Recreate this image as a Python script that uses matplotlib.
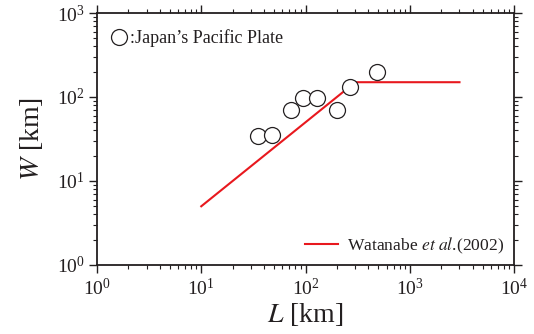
import matplotlib
matplotlib.use("Agg")
import matplotlib.pyplot as plt
from matplotlib.ticker import LogLocator, LogFormatterMathtext, NullFormatter
from matplotlib.lines import Line2D

# Observed data (Japan's Pacific Plate)
L_obs = [35, 48, 72, 94, 130, 200, 265, 490]
W_obs = [34, 35, 70, 97, 97, 70, 130, 198]

# Watanabe et al. (2002) scaling line
L_line = [10, 300, 3000]
W_line = [5, 150, 150]

TXT = '#231f20'
RED = '#e8181e'

plt.rcParams['font.family'] = ['Liberation Serif', 'DejaVu Serif']
plt.rcParams['mathtext.fontset'] = 'stix'

fig = plt.figure(figsize=(5.34, 3.34), dpi=100)
ax = fig.add_axes([97/534, 1-265/334, (514-97)/534, (265-13)/334])

ax.plot(L_line, W_line, color=RED, lw=1.5, zorder=2)
ax.plot(L_obs, W_obs, linestyle='none', marker='o', ms=11.5, mfc='white',
        mec=TXT, mew=0.9, zorder=3)

ax.set_xscale('log')
ax.set_yscale('log')
ax.set_xlim(1, 1e4)
ax.set_ylim(1, 1e3)

for axis in (ax.xaxis, ax.yaxis):
    axis.set_major_locator(LogLocator(base=10, numticks=10))
    axis.set_minor_locator(LogLocator(base=10, subs=range(2, 10), numticks=20))
    axis.set_major_formatter(LogFormatterMathtext())
    axis.set_minor_formatter(NullFormatter())

ax.tick_params(which='both', direction='out', top=True, right=True,
               color=TXT, labelcolor=TXT, labelsize=14)
ax.tick_params(which='major', length=6, width=1.0, pad=3)
ax.tick_params(which='minor', length=3, width=0.8)
for s in ax.spines.values():
    s.set_linewidth(1.3)
    s.set_color(TXT)

ax.set_xlabel(r'$L$ [km]', fontsize=20, color=TXT, labelpad=2)
ax.set_ylabel(r'$W$ [km]', fontsize=20, color=TXT, labelpad=8)

h1 = Line2D([], [], linestyle='none', marker='o', ms=11.5, mfc='white',
            mec=TXT, mew=0.9)
leg1 = ax.legend([h1], [':Japan\u2019s Pacific Plate'], loc='center left',
                 bbox_to_anchor=(0.026, 0.901), frameon=False, fontsize=13,
                 handletextpad=0.0, handlelength=1.2, borderpad=0,
                 borderaxespad=0, labelcolor=TXT)
ax.add_artist(leg1)

h2 = Line2D([], [], color=RED, lw=1.5)
ax.legend([h2], [r'Watanabe $\mathit{et\ al}$.(2002)'], loc='center left',
          bbox_to_anchor=(0.499, 0.075), frameon=False, fontsize=12.6,
          handletextpad=0.52, handlelength=1.89, borderpad=0,
          borderaxespad=0, labelcolor=TXT)

fig.savefig('out.png', dpi=100)
